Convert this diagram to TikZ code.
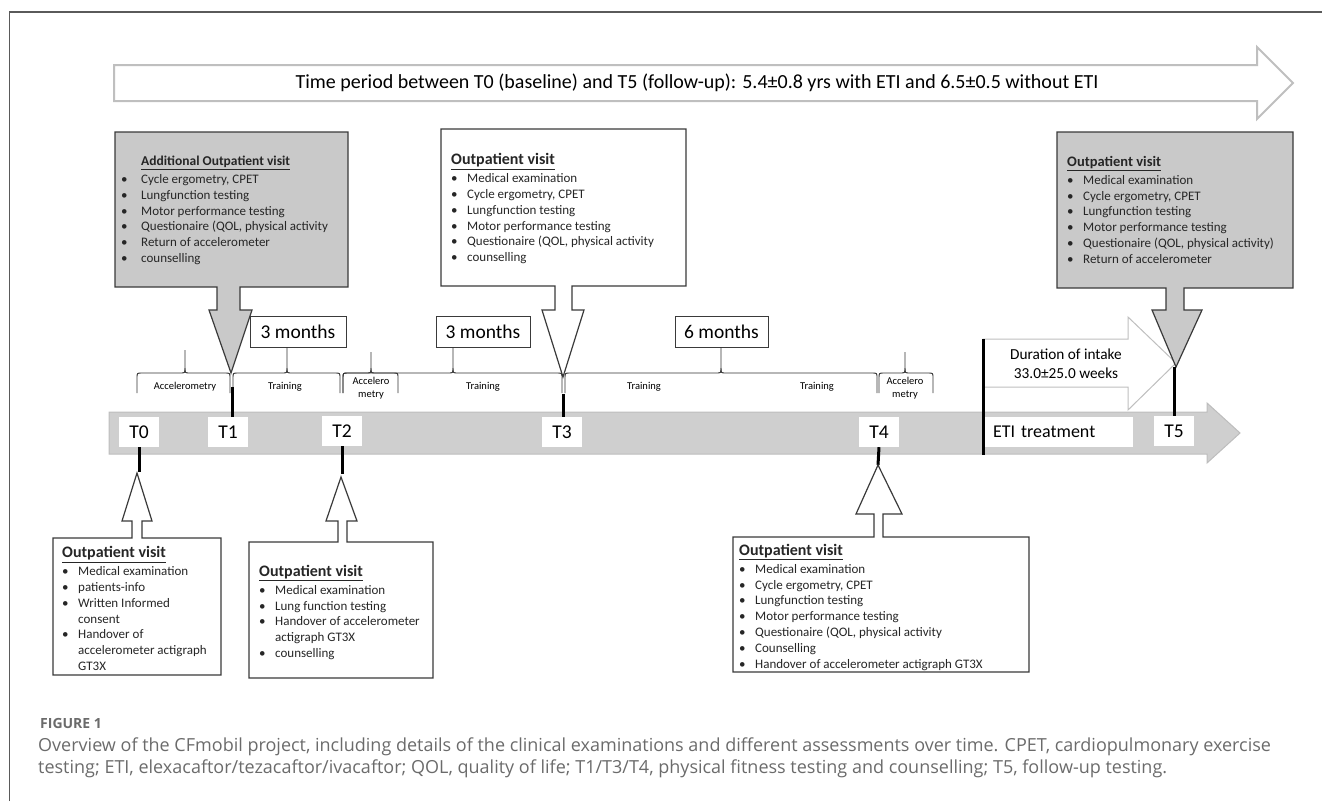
\documentclass[tikz,border=0pt]{standalone}
\usepackage{fontspec}
\setmainfont{Carlito}
\newfontfamily\capfont{Open Sans}
\usetikzlibrary{calc}
\definecolor{boxgray}{HTML}{C9C9C9}
\definecolor{bandgray}{HTML}{CFCFCF}
\definecolor{bandedge}{HTML}{BDBDBD}
\definecolor{arrowedge}{HTML}{BFBFBF}
\definecolor{edgedark}{HTML}{3A3A3A}
\definecolor{capgray}{HTML}{6B6B6B}
\definecolor{framegray}{HTML}{5A5A5A}
\newcommand{\bu}[1]{\makebox[#1][l]{\textbullet}}
\newcommand{\vtitle}[2]{{\fontsize{#1}{#1}\selectfont\underline{\textbf{#2}}}}
\newcommand{\ubrace}[4]{%
  \draw[bracest] (#1,393) -- (#1,378) .. controls (#1,373) .. (#1+5,373) -- (#3-5,373) .. controls (#3,373) .. (#3,368) -- (#3,#4);
  \draw[bracest] (#3,368) .. controls (#3,373) .. (#3+5,373) -- (#2-5,373) .. controls (#2,373) .. (#2,378) -- (#2,393);}
\tikzset{
  callout/.style={draw=edgedark, line width=1.2pt, line join=miter},
  boxtext/.style={anchor=north west, align=left, inner sep=0pt, font=\fontsize{13}{15.8}\selectfont, text=black!85},
  tlabel/.style={fill=white, inner sep=0pt, minimum width=40pt, minimum height=30pt, font=\fontsize{19.5}{19.5}\selectfont},
  months/.style={draw=edgedark, fill=white, line width=1pt, inner sep=0pt, minimum height=31pt, font=\fontsize{19.5}{19.5}\selectfont},
  tick/.style={line width=3pt, black},
  bracest/.style={draw=black!80, line width=0.9pt},
  blabel/.style={font=\fontsize{10.5}{13}\selectfont, align=center, inner sep=0pt},
}
\begin{document}
\begin{tikzpicture}[x=1pt,y=-1pt]
\useasboundingbox (0,0) rectangle (1322,801);
% frame
\draw[framegray, line width=1.5pt] (9.5,801) -- (9.5,12) -- (1322,12);
% top arrow
\draw[arrowedge, line width=2pt, fill=white, line join=miter] (114,65) -- (1257,65) -- (1257,47) -- (1293,83) -- (1257,119) -- (1257,101) -- (114,101) -- cycle;
\node[font=\fontsize{20}{20}\selectfont] (toptext) at (697,83) {Time period between T0 (baseline) and T5 (follow-up): 5.4±0.8 yrs with ETI and 6.5±0.5 without ETI};
% band
\draw[bandedge, fill=bandgray, line width=1pt, line join=miter] (109,412) -- (1207,412) -- (1207,403) -- (1240,433) -- (1207,463) -- (1207,454) -- (109,454) -- cycle;
% duration arrow
\draw[arrowedge, line width=1pt, fill=white, line join=miter] (983,339) -- (1128,339) -- (1128,317) -- (1176,363) -- (1128,410) -- (1128,387) -- (983,387) -- cycle;
\node[font=\fontsize{15.3}{19}\selectfont, align=center, inner sep=0pt] (duration) at (1066,364) {Duration of intake\\33.0±25.0 weeks};
% upper callouts
\draw[callout, fill=boxgray] (115,132) -- (348,132) -- (348,287) -- (240,287) -- (240,310) -- (252,310) -- (231,373) -- (209,310) -- (217,310) -- (217,287) -- (115,287) -- cycle;
\node[boxtext] (c1) at (121,156) {\hspace*{20pt}\vtitle{13.5}{Additional Outpatient visit}\\[2pt]
\bu{20pt}Cycle ergometry,  CPET\\
\bu{20pt}Lungfunction testing\\
\bu{20pt}Motor performance testing\\
\bu{20pt}Questionaire (QOL, physical activity\\
\bu{20pt}Return of accelerometer\\
\bu{20pt}counselling};
\draw[callout, fill=white] (441,129) -- (686,129) -- (686,286) -- (572,286) -- (572,310) -- (584,310) -- (563,377) -- (542,310) -- (555,310) -- (555,286) -- (441,286) -- cycle;
\node[boxtext] (c3) at (451,153.5) {\vtitle{16}{Outpatient visit}\\[2pt]
\bu{16pt}Medical examination\\
\bu{16pt}Cycle ergometry,  CPET\\
\bu{16pt}Lungfunction testing\\
\bu{16pt}Motor performance testing\\
\bu{16pt}Questionaire (QOL, physical activity\\
\bu{16pt}counselling};
\draw[callout, fill=boxgray] (1057,132) -- (1293,132) -- (1293,288) -- (1184,288) -- (1184,310) -- (1202,310) -- (1176,367) -- (1152,310) -- (1166,310) -- (1166,288) -- (1057,288) -- cycle;
\node[boxtext] (c5) at (1067,156) {\vtitle{14.5}{Outpatient visit}\\[2pt]
\bu{16pt}Medical examination\\
\bu{16pt}Cycle ergometry,  CPET\\
\bu{16pt}Lungfunction testing\\
\bu{16pt}Motor performance testing\\
\bu{16pt}Questionaire (QOL, physical activity)\\
\bu{16pt}Return of accelerometer};
% month boxes
\node[months, minimum width=96pt] (m1) at (298,331.5) {3 months};
\node[months, minimum width=94pt] (m2) at (483,331.5) {3 months};
\node[months, minimum width=93pt] (m3) at (721.5,331.5) {6 months};
% braces
\ubrace{137}{230}{185}{350}
\ubrace{233}{340}{287}{347}
\ubrace{343}{398}{371}{352}
\ubrace{343}{562}{453}{347}
\ubrace{565}{877}{721}{347}
\ubrace{879}{933}{905}{352}
\node[blabel] (b1) at (185,387) {Accelerometry};
\node[blabel] (b2) at (285,387) {Training};
\node[blabel] (b3) at (371,388.5) {Accelero\\metry};
\node[blabel] (b4) at (483,387) {Training};
\node[blabel] (b5) at (644,387) {Training};
\node[blabel] (b6) at (817,387) {Training};
\node[blabel] (b7) at (905,388.5) {Accelero\\metry};
% labels on band
\node[tlabel] (T0) at (139,432) {T0};
\node[tlabel] (T1) at (228,432) {T1};
\node[tlabel] (T2) at (342,431) {T2};
\node[tlabel] (T3) at (562,432) {T3};
\node[tlabel] (T4) at (879,432) {T4};
\node[tlabel] (T5) at (1174,431) {T5};
\node[fill=white, inner xsep=9pt, inner ysep=0pt, text width=131pt, minimum height=30pt, align=left, font=\fontsize{18}{18}\selectfont] (eti) at (1058.5,432) {ETI treatment};
% ticks
\coordinate (t0e) at (139,472);
\coordinate (t1s) at (232,387);
\coordinate (t2e) at (342,474);
\coordinate (t3s) at (563,394);
\coordinate (t4e) at (878,465);
\coordinate (t5s) at (1174,367);
\coordinate (etis) at (983,339);
\coordinate (etie) at (983,455);
\draw[tick] (T0.south) -- (t0e);
\draw[tick] (t1s) -- (t1s |- T1.north);
\draw[tick] (T2.south) -- (t2e);
\draw[tick] (t3s) -- (t3s |- T3.north);
\draw[tick] (T4.south) -- (t4e);
\draw[tick] (t5s) -- (T5.north);
\draw[tick] (etis) -- (etie);
% lower callouts
\draw[callout, fill=white] (53,538) -- (132,538) -- (132,521) -- (122,521) -- (137,473) -- (152,521) -- (142,521) -- (142,538) -- (221,538) -- (221,675) -- (53,675) -- cycle;
\node[boxtext] (c0) at (62,546.5) {\vtitle{16}{Outpatient visit}\\[2pt]
\bu{16pt}Medical examination\\
\bu{16pt}patients-info\\
\bu{16pt}Written Informed\\
\hspace*{16pt}consent\\
\bu{16pt}Handover of\\
\hspace*{16pt}accelerometer actigraph\\
\hspace*{16pt}GT3X};
\draw[callout, fill=white] (249,542) -- (338,542) -- (338,521) -- (326,521) -- (341,477) -- (357,521) -- (347,521) -- (347,542) -- (433,542) -- (433,678) -- (249,678) -- cycle;
\node[boxtext] (c2) at (259,565) {\vtitle{16}{Outpatient visit}\\[2pt]
\bu{16pt}Medical examination\\
\bu{16pt}Lung function testing\\
\bu{16pt}Handover of accelerometer\\
\hspace*{16pt}actigraph GT3X\\
\bu{16pt}counselling};
\draw[callout, fill=white] (733,537) -- (874,537) -- (874,514) -- (856,514) -- (878,465) -- (902,514) -- (883,514) -- (883,537) -- (1029,537) -- (1029,672) -- (733,672) -- cycle;
\node[boxtext] (c4) at (739,544) {\vtitle{16}{Outpatient visit}\\[2pt]
\bu{16pt}Medical examination\\
\bu{16pt}Cycle ergometry,  CPET\\
\bu{16pt}Lungfunction testing\\
\bu{16pt}Motor performance testing\\
\bu{16pt}Questionaire (QOL, physical activity\\
\bu{16pt}Counselling\\
\bu{16pt}Handover of accelerometer actigraph GT3X};
% caption
\node[anchor=base west, inner sep=0pt, text=capgray, font=\capfont\bfseries\fontsize{14}{14}\selectfont] (figlabel) at (40,728) {FIGURE 1};
\node[anchor=base west, inner sep=0pt, text=capgray, font=\capfont\fontsize{18}{18}\selectfont] (cap1) at (38,751) {Overview of the CFmobil project, including details of the clinical examinations and different assessments over time. CPET, cardiopulmonary exercise};
\node[anchor=base west, inner sep=0pt, text=capgray, font=\capfont\fontsize{18}{18}\selectfont] (cap2) at (38,773) {testing; ETI, elexacaftor/tezacaftor/ivacaftor; QOL, quality of life; T1/T3/T4, physical fitness testing and counselling; T5, follow-up testing.};
\end{tikzpicture}
\end{document}
